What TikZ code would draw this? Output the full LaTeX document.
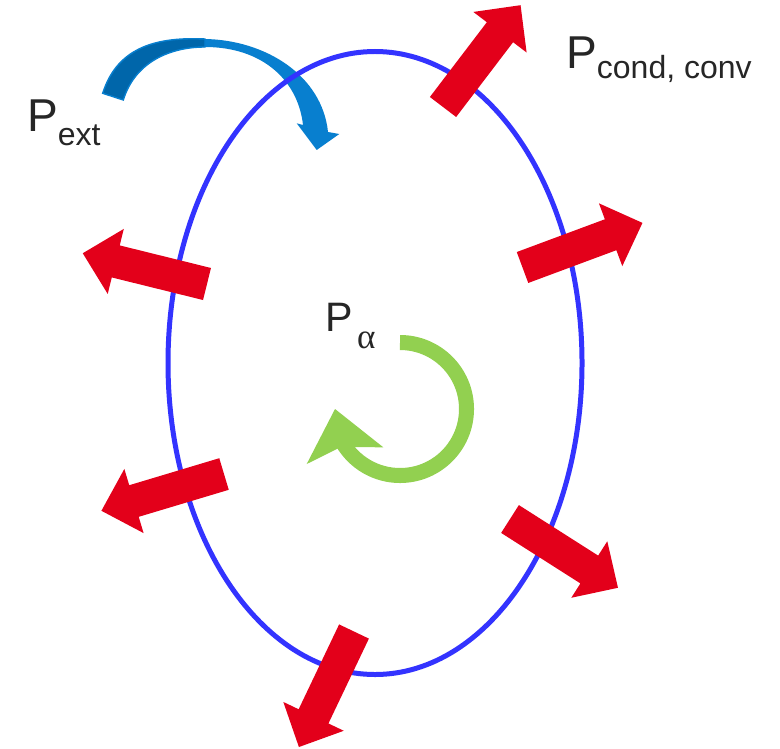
\documentclass[tikz,border=0pt]{standalone}
\usepackage{fontspec}
\setmainfont{Liberation Sans}
\newfontfamily\greekfont{Liberation Serif}
\definecolor{ringblue}{RGB}{51,51,255}
\definecolor{heatred}{RGB}{227,0,26}
\definecolor{leafgreen}{RGB}{146,208,80}
\definecolor{skyblue}{RGB}{8,127,207}
\definecolor{deepblue}{RGB}{0,102,170}
\definecolor{ink}{RGB}{38,38,38}

\begin{document}
\begin{tikzpicture}[x=.01cm,y=.01cm,
  ring/.style={draw=ringblue,line width=1.42pt},
  heat/.style={fill=heatred},
  lbl/.style={inner sep=0pt,anchor=base west,text=ink}]
\useasboundingbox (0,0) rectangle (780,748);
% incoming power
\fill[skyblue](102.7,654.7)..controls(118,703)and(160,711)..(205,709)..controls(265,708)and(322,673)..(328,616)
  --(339.3,614)--(316.7,598)--(296.7,624.7)--(303,623)..controls(298,668)and(262,701)..(205,701)
  ..controls(170,701)and(135,686)..(123.3,648)--cycle;
\filldraw[fill=deepblue,draw=skyblue,line width=.4pt](102.7,654.7)..controls(118,703)and(160,711)..(205,709)
  --(205,701)..controls(170,701)and(135,686)..(123.3,648)--cycle;
% body
\draw[ring](375,385)ellipse[x radius=207,y radius=311.5];
% losses
\foreach \x/\y/\a in {443/641/52.7,522.5/480.5/20.4,510/229/-32.5,207/464/166.1,224/274/196.7,354/116.5/-115.5}
  \fill[heat,shift={(\x,\y)},rotate=\a](0,-16.5)--(94,-16.5)--(94,-33.5)--(128,0)--(94,33.5)--(94,16.5)--(0,16.5)--cycle;
% absorbed power
\draw[leafgreen,line width=4.27pt](400,405.5)arc[start angle=90,end angle=-150,radius=66.5];
\fill[leafgreen](335,339)--(306.7,284)--(341,301)--(383.3,300.7)--cycle;
% labels
\node[lbl,font=\fontsize{13.1}{13.1}\selectfont](pext)at(26.5,616.3){P{\fontsize{9.1}{9.1}\selectfont\raisebox{-3.8pt}{ext}}};
\node[lbl,font=\fontsize{13.1}{13.1}\selectfont](pcond)at(565.5,679.7){P{\fontsize{9.1}{9.1}\selectfont\raisebox{-2.85pt}{cond, conv}}};
\node[lbl,font=\fontsize{11.7}{11.7}\selectfont](palpha)at(324.4,416.3){P\kern1.3pt{\greekfont\fontsize{10}{10}\selectfont\raisebox{-4.7pt}{α}}};
\end{tikzpicture}
\end{document}
